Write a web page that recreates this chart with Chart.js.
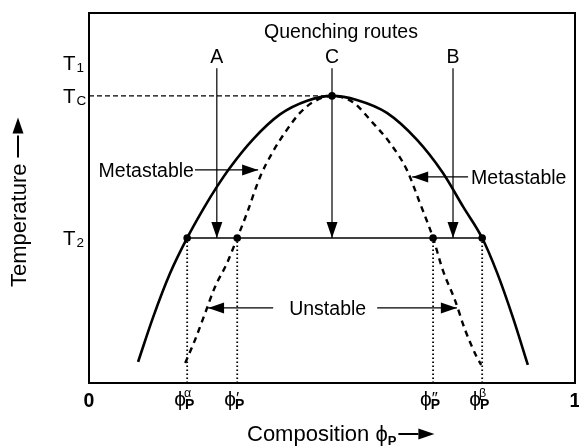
<!DOCTYPE html>
<html>
<head>
<meta charset="utf-8">
<script src="https://cdn.jsdelivr.net/npm/chart.js@4/dist/chart.umd.min.js"></script>
<style>
    html, body { margin: 0; padding: 0; background: #fff; }
    #wrap { width: 579px; height: 447px; }
</style>
</head>
<body>
<div id="wrap"><canvas id="phase-chart"></canvas></div>
<script>
// composition (0..1) and temperature (arbitrary 0..100)
const binodalX = [0.101, 0.132, 0.167, 0.202, 0.235, 0.263, 0.290, 0.337, 0.393, 0.449, 0.500, 0.551, 0.613, 0.675, 0.728, 0.770, 0.809, 0.840, 0.872, 0.903];
const binodalT = [5.7, 17.8, 29.7, 39.2, 47.0, 53.0, 58.2, 65.8, 72.6, 76.3, 77.6, 76.5, 73.0, 65.7, 56.8, 47.6, 39.2, 29.7, 17.8, 4.9];

const spinodalX = [0.198, 0.218, 0.239, 0.259, 0.284, 0.305, 0.325, 0.352, 0.377, 0.407, 0.434, 0.461, 0.500, 0.543, 0.584, 0.619, 0.654, 0.681, 0.708, 0.728, 0.753, 0.774, 0.798, 0.807];
const spinodalT = [5.4, 11.6, 18.9, 25.9, 32.4, 39.2, 45.9, 55.7, 62.2, 68.4, 73.0, 75.9, 77.6, 75.9, 70.3, 64.9, 57.6, 48.6, 39.2, 30.5, 22.4, 14.3, 7.0, 4.9];

// temperature levels on the y axis
const levelSubs = ['1', 'C', '2'];
const levelValues = [86.5, 77.6, 39.2];

// compositions on the x axis
const tickValues = [0, 0.202, 0.305, 0.708, 0.809, 1];
const tickSups = ['', 'α', '′', '″', 'β', ''];

// quenching routes, from T1-ish down to T2
const routeNames = ['A', 'C', 'B'];
const routeX = [0.263, 0.500, 0.749];
const routeTop = 85.1;

// labelled arrows pointing at the curves
const noteText = ['Metastable', 'Metastable', 'Unstable', ''];
const noteFromX = [0.218, 0.780, 0.379, 0.593];
const noteToX = [0.348, 0.665, 0.245, 0.757];
const noteT = [57.6, 55.7, 20.3, 20.3];

const T2 = levelValues[2];
const Tc = levelValues[1];
const critX = 0.5;
const nodeX = tickValues.slice(1, 5);

const FONT = '"Liberation Sans", Arial, sans-serif';
const pts = (xs, ys) => xs.map((x, i) => ({ x: x, y: ys[i] }));

const datasets = [
    {
        label: 'binodal',
        data: pts(binodalX, binodalT),
        borderColor: '#000',
        borderWidth: 2.6,
        cubicInterpolationMode: 'monotone',
        pointRadius: 0
    },
    {
        label: 'spinodal',
        data: pts(spinodalX, spinodalT),
        borderColor: '#000',
        borderWidth: 2.4,
        borderDash: [6, 5],
        cubicInterpolationMode: 'monotone',
        pointRadius: 0
    },
    {
        label: 'Tc',
        data: [{ x: 0, y: Tc }, { x: critX, y: Tc }],
        borderColor: '#000',
        borderWidth: 1.3,
        borderDash: [5, 3],
        pointRadius: 0
    },
    {
        label: 'tie line',
        data: [{ x: nodeX[0], y: T2 }, { x: nodeX[3], y: T2 }],
        borderColor: '#000',
        borderWidth: 1.6,
        pointRadius: 0
    }
];

// dotted drops from the T2 nodes to the composition axis
nodeX.forEach(x => {
    datasets.push({
        label: 'drop',
        data: [{ x: x, y: 0 }, { x: x, y: T2 }],
        borderColor: '#000',
        borderWidth: 1.8,
        borderDash: [1.5, 2.5],
        pointRadius: 0
    });
});

// quench routes
routeX.forEach(x => {
    datasets.push({
        label: 'route',
        arrow: true,
        data: [{ x: x, y: routeTop }, { x: x, y: T2 }],
        borderColor: '#000',
        borderWidth: 1.2,
        pointRadius: 0
    });
});

// note arrows
noteText.forEach((t, i) => {
    datasets.push({
        label: 'note',
        arrow: true,
        data: [{ x: noteFromX[i], y: noteT[i] }, { x: noteToX[i], y: noteT[i] }],
        borderColor: '#000',
        borderWidth: 1.4,
        pointRadius: 0
    });
});

// nodes
datasets.push({
    label: 'nodes',
    data: nodeX.map(x => ({ x: x, y: T2 })).concat([{ x: critX, y: Tc }]),
    showLine: false,
    pointRadius: 3.8,
    pointBackgroundColor: '#000',
    pointBorderWidth: 0
});

function text(ctx, str, x, y, size, opts = {}) {
    ctx.save();
    ctx.font = `${opts.bold ? 'bold ' : ''}${size}px ${FONT}`;
    ctx.fillStyle = '#000';
    ctx.textAlign = opts.align || 'left';
    ctx.textBaseline = opts.baseline || 'alphabetic';
    ctx.fillText(str, x, y);
    const w = ctx.measureText(str).width;
    ctx.restore();
    return w;
}

function arrowHead(ctx, x0, y0, x1, y1) {
    const ang = Math.atan2(y1 - y0, x1 - x0);
    const len = 16, half = 5.5;
    ctx.save();
    ctx.translate(x1, y1);
    ctx.rotate(ang);
    ctx.beginPath();
    ctx.moveTo(0, 0);
    ctx.lineTo(-len, -half);
    ctx.lineTo(-len, half);
    ctx.closePath();
    ctx.fillStyle = '#000';
    ctx.fill();
    ctx.restore();
}

const decorations = {
    id: 'decorations',
    afterDatasetsDraw(chart) {
        const { ctx, chartArea: a, scales: { x, y } } = chart;

        // frame
        ctx.save();
        ctx.strokeStyle = '#000';
        ctx.lineWidth = 2;
        ctx.strokeRect(a.left, a.top, a.right - a.left, a.bottom - a.top);
        ctx.restore();

        // arrowheads
        chart.data.datasets.forEach(ds => {
            if (!ds.arrow) return;
            const p0 = ds.data[0], p1 = ds.data[1];
            arrowHead(ctx, x.getPixelForValue(p0.x), y.getPixelForValue(p0.y),
                x.getPixelForValue(p1.x), y.getPixelForValue(p1.y));
        });

        const fs = 19.5;

        // title inside the frame
        text(ctx, 'Quenching routes', x.getPixelForValue(0.5) + 9, a.top + 25, fs, { align: 'center' });

        // route names
        routeNames.forEach((n, i) => {
            text(ctx, n, x.getPixelForValue(routeX[i]), y.getPixelForValue(routeTop) - 5, fs, { align: 'center' });
        });

        // note labels
        text(ctx, noteText[0], x.getPixelForValue(noteFromX[0]) - 1, y.getPixelForValue(noteT[0]) + 7, fs, { align: 'right' });
        text(ctx, noteText[1], x.getPixelForValue(noteFromX[1]) + 3, y.getPixelForValue(noteT[1]) + 7, fs);
        text(ctx, noteText[2], x.getPixelForValue(noteFromX[2]) + 16, y.getPixelForValue(noteT[2]) + 7, fs);

        // temperature levels
        levelSubs.forEach((s, i) => {
            const py = y.getPixelForValue(levelValues[i]) + 7;
            const w = text(ctx, 'T', 63, py, 20.5);
            text(ctx, s, 63 + w + 1, py + 2, 13.5);
        });

        // composition ticks
        tickValues.forEach((v, i) => {
            const px = x.getPixelForValue(v);
            const py = a.bottom + 24;
            if (i === 0 || i === tickValues.length - 1) {
                text(ctx, String(v), px, py, 19.5, { align: 'center', bold: true });
                return;
            }
            const w = text(ctx, 'ϕ', px - 13, py - 1, 21);
            text(ctx, 'P', px - 13 + w - 1, py + 2, 14, { bold: true });
            const prime = tickSups[i] === '′' || tickSups[i] === '″';
            if (prime) {
                text(ctx, tickSups[i], px - 13 + w, py - 3, 17);
            } else {
                text(ctx, tickSups[i], px - 13 + w - 2, py - 10, 12.5);
            }
        });

        // axis titles
        const cy = a.bottom + 58;
        let cx = 247;
        cx += text(ctx, 'Composition ', cx, cy, 22);
        cx += text(ctx, 'ϕ', cx, cy, 22);
        cx += text(ctx, 'P', cx, cy + 4, 13, { bold: true });
        ctx.save();
        ctx.strokeStyle = '#000';
        ctx.lineWidth = 2;
        ctx.beginPath();
        ctx.moveTo(cx + 2, cy - 7);
        ctx.lineTo(cx + 22, cy - 7);
        ctx.stroke();
        ctx.restore();
        arrowHead(ctx, cx + 2, cy - 7, cx + 38, cy - 7);

        ctx.save();
        ctx.translate(26, 287);
        ctx.rotate(-Math.PI / 2);
        const tw = text(ctx, 'Temperature', 0, 0, 22);
        ctx.strokeStyle = '#000';
        ctx.lineWidth = 2;
        ctx.beginPath();
        ctx.moveTo(tw + 6, -8);
        ctx.lineTo(tw + 28, -8);
        ctx.stroke();
        arrowHead(ctx, tw + 6, -8, tw + 46, -8);
        ctx.restore();
    }
};

new Chart(document.querySelector('#phase-chart'), {
    type: 'scatter',
    data: { datasets: datasets },
    options: {
        responsive: true,
        maintainAspectRatio: false,
        animation: false,
        showLine: true,
        layout: { padding: { left: 89, right: 4, top: 13, bottom: 64 } },
        scales: {
            x: { type: 'linear', min: 0, max: 1, display: false },
            y: { type: 'linear', min: 0, max: 100, display: false }
        },
        plugins: {
            legend: { display: false },
            tooltip: { enabled: false }
        }
    },
    plugins: [decorations]
});
</script>
</body>
</html>
